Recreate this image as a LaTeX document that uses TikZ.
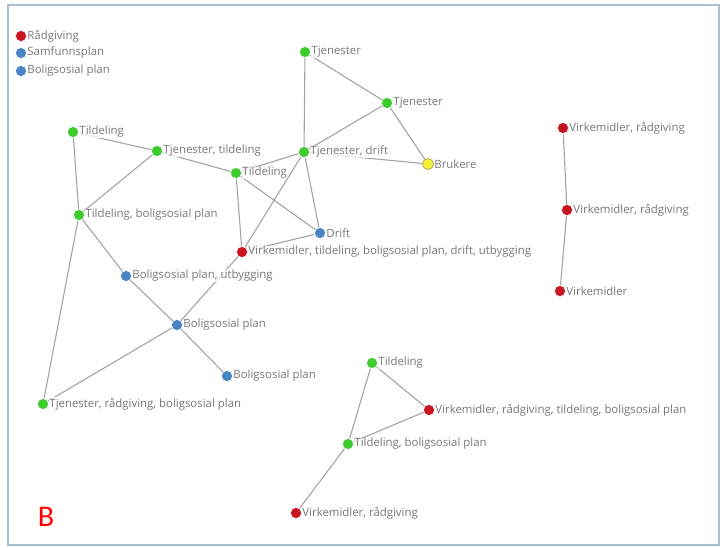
\documentclass[tikz,border=0pt]{standalone}
\usepackage{fontspec}
\setmainfont{Open Sans}
\newfontfamily\bfont{Carlito}
\usepackage{tikz}
\usetikzlibrary{backgrounds}
\definecolor{NetGreen}{HTML}{3DCC2E}
\definecolor{NetRed}{HTML}{C8141E}
\definecolor{NetBlue}{HTML}{4A84C4}
\definecolor{NetYellow}{HTML}{F4F03C}
\definecolor{NetText}{HTML}{787878}
\definecolor{NetEdge}{HTML}{A4A4A4}
\definecolor{NetFrame}{HTML}{A8C0D0}

\tikzset{
  dot/.style={circle,inner sep=0pt,minimum size=11pt,draw=white,line width=0.5pt},
  gdot/.style={dot,fill=NetGreen},
  rdot/.style={dot,fill=NetRed},
  bdot/.style={dot,fill=NetBlue},
  ydot/.style={dot,fill=NetYellow,draw=NetYellow!60!black},
  lbl/.style={text=NetText,font=\fontsize{11.4}{13}\selectfont,inner sep=0.5pt,
    label distance=0pt,fill=white,fill opacity=0.75,text opacity=1},
  edge/.style={draw=NetEdge,line width=1.1pt}
}

\begin{document}
\begin{tikzpicture}[x=1pt,y=-1pt]
    \useasboundingbox (0,0) rectangle (720,547);
    \draw[NetFrame,line width=1.5pt] (8,5) rectangle (719,545);

    % legend
    \node[rdot,label={[lbl]right:Rådgiving}] (leg1) at (21,36) {};
    \node[bdot,label={[lbl]right:Samfunnsplan}] (leg2) at (21,53) {};
    \node[bdot,label={[lbl]right:Boligsosial plan}] (leg3) at (21,71) {};

    % main cluster
    \node[gdot,label={[lbl]right:Tjenester}] (tjA) at (305,52) {};
    \node[gdot,label={[lbl]right:Tjenester}] (tjB) at (387,103) {};
    \node[gdot,label={[lbl]right:{Tjenester, drift}}] (tjdrift) at (304,152) {};
    \node[ydot,label={[lbl]right:Brukere}] (brukere) at (428,164) {};
    \node[gdot,label={[lbl]right:Tildeling}] (tilA) at (73,132) {};
    \node[gdot,label={[lbl]right:{Tjenester, tildeling}}] (tjtil) at (157,151) {};
    \node[gdot,label={[lbl]right:Tildeling}] (tilB) at (236,173) {};
    \node[gdot,label={[lbl]right:{Tildeling, boligsosial plan}}] (tilbsp) at (79,215) {};
    \node[bdot,label={[lbl]right:Drift}] (drift) at (320,233) {};
    \node[rdot,label={[lbl]right:{Virkemidler, tildeling, boligsosial plan, drift, utbygging}}] (virkall) at (242,252) {};
    \node[bdot,label={[lbl]right:{Boligsosial plan, utbygging}}] (bspUt) at (126,276) {};
    \node[bdot,label={[lbl]right:Boligsosial plan}] (bspA) at (177,325) {};
    \node[bdot,label={[lbl]right:Boligsosial plan}] (bspB) at (227,376) {};
    \node[gdot,label={[lbl]right:{Tjenester, rådgiving, boligsosial plan}}] (tjrad) at (43,404) {};

    % right chain
    \node[rdot,label={[lbl]right:{Virkemidler, rådgiving}}] (virkA) at (563,128) {};
    \node[rdot,label={[lbl]right:{Virkemidler, rådgiving}}] (virkB) at (567,210) {};
    \node[rdot,label={[lbl]right:Virkemidler}] (virkC) at (560,291) {};

    % lower triangle
    \node[gdot,label={[lbl]right:Tildeling}] (tilC) at (372,363) {};
    \node[rdot,label={[lbl]right:{Virkemidler, rådgiving, tildeling, boligsosial plan}}] (virkD) at (429,410) {};
    \node[gdot,label={[lbl]right:{Tildeling, boligsosial plan}}] (tilbspB) at (348,444) {};
    \node[rdot,label={[lbl]right:{Virkemidler, rådgiving}}] (virkE) at (296,513) {};

    \node[text=red,font=\bfont\fontsize{30}{32}\selectfont] (tagB) at (46,517) {B};

    \begin{scope}[on background layer]
      \path[edge] (tjA) -- (tjB) (tjA) -- (tjdrift) (tjB) -- (tjdrift)
        (tjB) -- (brukere) (tjdrift) -- (brukere);
      \path[edge] (tjdrift) -- (tilB) (tjdrift) -- (drift) (tjdrift) -- (virkall);
      \path[edge] (tilB) -- (drift) (tilB) -- (virkall) (tilB) -- (tjtil)
        (drift) -- (virkall);
      \path[edge] (tilA) -- (tjtil) (tilA) -- (tilbsp) (tjtil) -- (tilbsp);
      \path[edge] (tilbsp) -- (bspUt) (bspUt) -- (bspA) (bspA) -- (bspB)
        (virkall) -- (bspA);
      \path[edge] (tilbsp) -- (tjrad) (bspA) -- (tjrad);
      \path[edge] (virkA) -- (virkB) (virkB) -- (virkC);
      \path[edge] (tilC) -- (virkD) (tilC) -- (tilbspB) (virkD) -- (tilbspB)
        (tilbspB) -- (virkE);
    \end{scope}
\end{tikzpicture}
\end{document}
